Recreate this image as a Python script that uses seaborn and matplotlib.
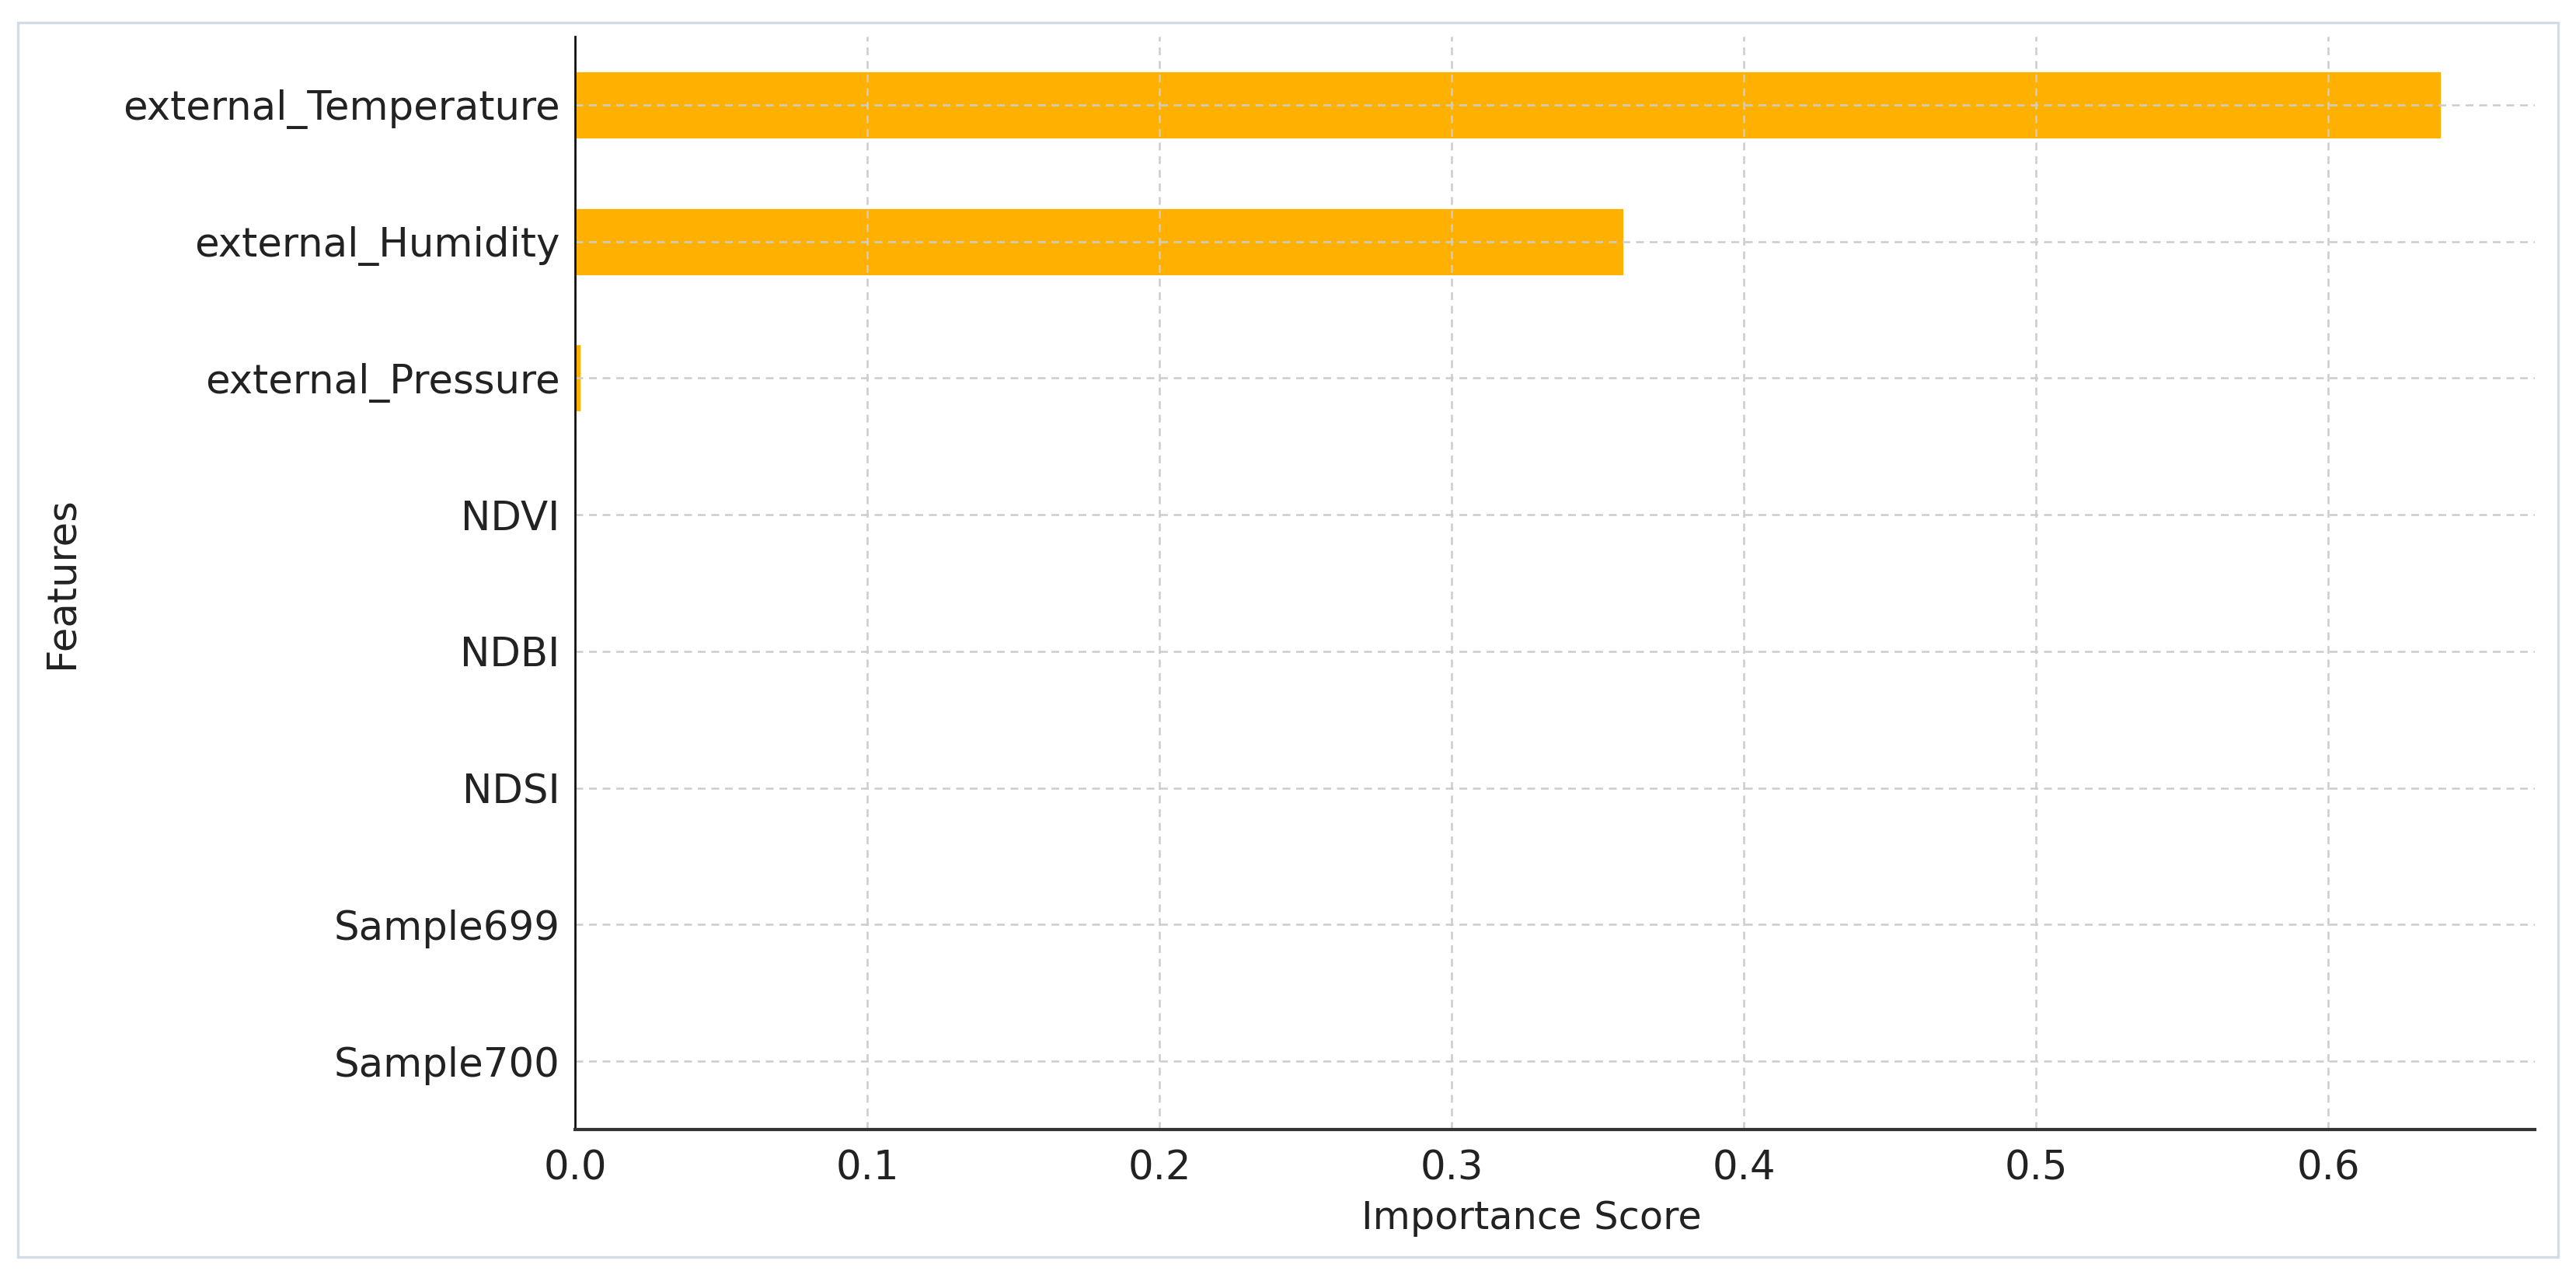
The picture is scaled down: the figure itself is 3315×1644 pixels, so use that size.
import matplotlib
matplotlib.use("Agg")
import matplotlib.pyplot as plt
import seaborn as sns
import pandas as pd
from matplotlib.patches import Rectangle

features = ["external_Temperature", "external_Humidity", "external_Pressure",
            "NDVI", "NDBI", "NDSI", "Sample699", "Sample700"]
importance = [0.6387, 0.359, 0.002, 0.0, 0.0, 0.0, 0.0, 0.0]
x_label = "Importance Score"
y_label = "Features"

df = pd.DataFrame({"Feature": features, "Importance": importance})

sns.set_style("white")
plt.rcParams["font.family"] = ["DejaVu Sans"]
text_color = "#222222"

W, H, DPI = 3315, 1644, 200
fig = plt.figure(figsize=(W / DPI, H / DPI), dpi=DPI)
fig.patch.set_facecolor("white")

# outer frame
fig.patches.append(Rectangle((23 / W, 1 - 1617 / H), (3292 - 23) / W, (1617 - 29) / H,
                             transform=fig.transFigure, fill=False,
                             edgecolor="#d3dce6", linewidth=1.2, zorder=0))

ax = fig.add_axes([740 / W, 1 - 1453 / H, (3262 - 740) / W, (1453 - 47) / H])
sns.barplot(data=df, x="Importance", y="Feature", order=features,
            color="#ffb000", width=0.5, saturation=1, ax=ax)

ax.set_xlim(0, max(importance) * 1.05)
ax.set_ylim(len(features) - 0.5, -0.5)
ax.set_xticks([0.0, 0.1, 0.2, 0.3, 0.4, 0.5, 0.6])
ax.set_xticklabels(["0.0", "0.1", "0.2", "0.3", "0.4", "0.5", "0.6"])

ax.grid(True, linestyle=(0, (4, 3)), color="#cccccc", linewidth=0.9)
ax.set_axisbelow(False)

for s in ["top", "right"]:
    ax.spines[s].set_visible(False)
ax.spines["left"].set_color("#111111")
ax.spines["left"].set_linewidth(1.0)
ax.spines["bottom"].set_color("#333333")
ax.spines["bottom"].set_linewidth(1.5)
for s in ["left", "bottom"]:
    ax.spines[s].set_zorder(6)

ax.tick_params(axis="both", direction="in", length=6, width=1.0,
               colors="#222222", labelsize=18.5, labelcolor=text_color)
ax.tick_params(axis="y", pad=7)
ax.tick_params(axis="x", pad=9)

ax.set_xlabel(x_label, fontsize=17.8, color=text_color)
ax.set_ylabel(y_label, fontsize=18.5, color=text_color)
ax.xaxis.set_label_coords(0.488, -0.064)
ax.yaxis.set_label_coords(-0.252, 0.5)

fig.savefig("out.png", dpi=DPI, facecolor="white")
